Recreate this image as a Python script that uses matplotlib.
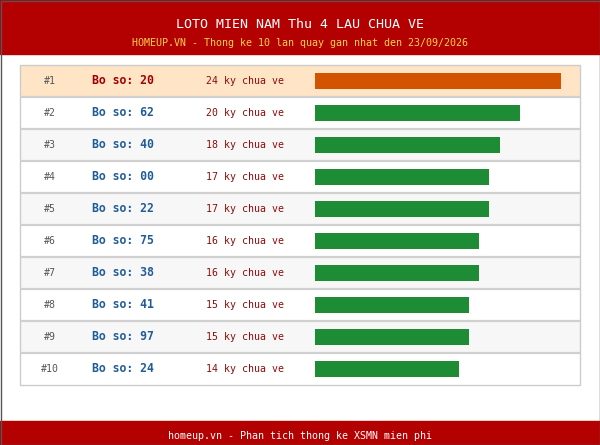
import matplotlib
matplotlib.use("Agg")
import matplotlib.pyplot as plt
from matplotlib.patches import Rectangle

# ---- data ----
ranks = ["#1", "#2", "#3", "#4", "#5", "#6", "#7", "#8", "#9", "#10"]
numbers = ["20", "62", "40", "00", "22", "75", "38", "41", "97", "24"]
gaps = [24, 20, 18, 17, 17, 16, 16, 15, 15, 14]
title = "LOTO MIEN NAM Thu 4 LAU CHUA VE"
subtitle = "HOMEUP.VN - Thong ke 10 lan quay gan nhat den 23/09/2026"
footer = "homeup.vn - Phan tich thong ke XSMN mien phi"

# ---- style ----
W, H = 600, 445
RED = "#B30000"
FONT = "DejaVu Sans Mono"
plt.rcParams["font.family"] = [FONT, "DejaVu Sans"]

fig = plt.figure(figsize=(W / 100, H / 100), dpi=100)
fig.patch.set_facecolor("white")
ax = fig.add_axes([0, 0, 1, 1])
ax.set_xlim(0, W)
ax.set_ylim(H, 0)
ax.axis("off")

# header / footer bands
ax.add_patch(Rectangle((0, 0), W, 54, color=RED, zorder=1))
ax.add_patch(Rectangle((0, 421), W, H - 421, color=RED, zorder=1))
ax.text(W / 2, 24, title, color="white", fontsize=9.6, ha="center", va="center")
ax.text(W / 2, 43.5, subtitle, color="#FFD24D", fontsize=7.2, ha="center", va="center")
ax.text(W / 2, 436, footer, color="white", fontsize=7.2, ha="center", va="center")

# table rows
x0, x1 = 20, 580
top, rh = 65, 32
n = len(gaps)
for i in range(n):
    y = top + i * rh
    if i == 0:
        bg = "#FFE4C6"
    elif i % 2 == 1:
        bg = "white"
    else:
        bg = "#F7F7F7"
    ax.add_patch(Rectangle((x0, y), x1 - x0, rh, facecolor=bg, edgecolor="none", zorder=2))
    cy = y + rh / 2
    ax.text(49.5, cy, ranks[i], color="#555555", fontsize=7.1, ha="center", va="center", zorder=4)
    ax.text(92.5, cy, "Bo so: " + numbers[i], color="#A00000" if i == 0 else "#1F5C99",
            fontsize=8.3, fontweight="bold", ha="left", va="center", zorder=4)
    ax.text(205.5, cy, f"{gaps[i]} ky chua ve", color="#8B0A0A", fontsize=7.1,
            ha="left", va="center", zorder=4)
for i in range(1, n):
    y = top + i * rh
    ax.plot([x0, x1], [y, y], color="#D0D0D0", lw=1.6, zorder=3, solid_capstyle="butt")
ax.add_patch(Rectangle((x0, top), x1 - x0, rh * n, facecolor="none", edgecolor="#CCCCCC",
                       lw=1.0, zorder=3))

# outer frame
ax.add_patch(Rectangle((0.5, 0.5), W - 1, H - 1, facecolor="none", edgecolor="#555555",
                       lw=1.0, zorder=6))

# bars in their own axes
bx0, bx1 = 315, 561
bax = fig.add_axes([bx0 / W, (H - (top + rh * n)) / H, (bx1 - bx0) / W, rh * n / H])
bax.set_xlim(0, max(gaps))
bax.set_ylim(n, 0)
bax.axis("off")
bax.patch.set_alpha(0)
colors = ["#D35400"] + ["#1E8B35"] * (n - 1)
bax.barh([i + 0.5 for i in range(n)], gaps, height=0.5, color=colors, zorder=5)

fig.savefig("out.png", dpi=100)
